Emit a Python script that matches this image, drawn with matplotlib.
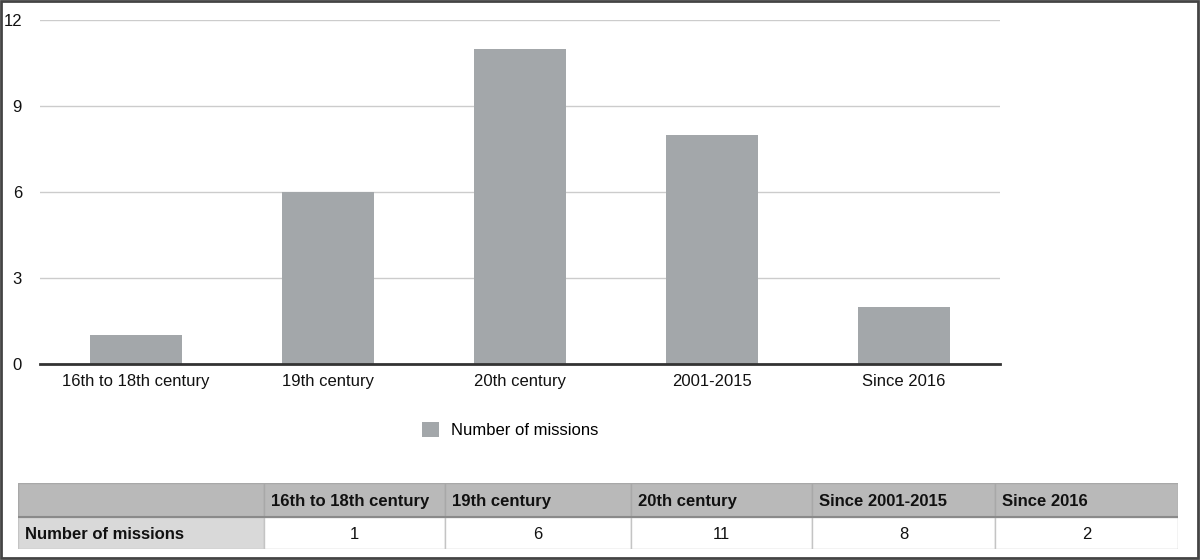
import matplotlib.pyplot as plt
from matplotlib.patches import Rectangle

plt.rcParams['font.family'] = ['Liberation Sans', 'DejaVu Sans']

categories = ["16th to 18th century", "19th century", "20th century",
              "2001-2015", "Since 2016"]
missions = [1, 6, 11, 8, 2]
series_name = "Number of missions"
table_cols = ["16th to 18th century", "19th century", "20th century",
              "Since 2001-2015", "Since 2016"]
y_ticks = [0, 3, 6, 9, 12]

W, H = 1200, 560
fig = plt.figure(figsize=(12, 5.6), dpi=100)

# chart area
ax = fig.add_axes([40 / W, 1 - 364 / H, 960 / W, 344 / H])
x = list(range(len(categories)))
bars = ax.bar(x, missions, width=0.475, color="#a3a7aa", label=series_name,
              zorder=2)
ax.set_xlim(-0.5, len(categories) - 0.5)
ax.set_ylim(0, 12)
ax.set_yticks(y_ticks)
ax.set_xticks(x)
ax.set_xticklabels(categories)
ax.tick_params(length=0, labelsize=12, colors="#111111")
ax.tick_params(axis="y", pad=13)
ax.tick_params(axis="x", pad=7)
ax.grid(axis="y", color="#cccccc", linewidth=1, zorder=0)
for s in ["top", "right", "left"]:
    ax.spines[s].set_visible(False)
ax.spines["bottom"].set_color("#333333")
ax.spines["bottom"].set_linewidth(2)
ax.spines["bottom"].set_zorder(3)

fig.legend(handles=[bars], labels=[series_name], loc="center left",
           bbox_to_anchor=(407 / W, 1 - 430 / H), frameon=False,
           handlelength=1.0, handleheight=1.0, fontsize=12,
           handletextpad=0.75)

# table below
col_w = [246, 181, 186, 181, 183, 183]
row_h = [34, 32]
tx0, ty0 = 18, 483
tab = fig.add_axes([tx0 / W, 1 - (ty0 + sum(row_h)) / H,
                    sum(col_w) / W, sum(row_h) / H])
tab.set_xlim(0, sum(col_w))
tab.set_ylim(sum(row_h), 0)
tab.axis("off")

header = [""] + table_cols
row = [series_name] + [str(v) for v in missions]
edges = [0]
for w in col_w:
    edges.append(edges[-1] + w)

for j in range(len(col_w)):
    # header cell
    tab.add_patch(Rectangle((edges[j], 0), col_w[j], row_h[0],
                            facecolor="#b9b9b9", edgecolor="#a8a8a8",
                            linewidth=1))
    tab.text(edges[j] + 7, row_h[0] / 2, header[j], ha="left",
             va="center_baseline", fontsize=12, fontweight="bold",
             color="#111111")
    # data cell
    fc = "#d9d9d9" if j == 0 else "white"
    tab.add_patch(Rectangle((edges[j], row_h[0]), col_w[j], row_h[1],
                            facecolor=fc, edgecolor="#c4c4c4", linewidth=1))
    if j == 0:
        tab.text(edges[j] + 7, row_h[0] + row_h[1] / 2, row[j], ha="left",
                 va="center_baseline", fontsize=12, fontweight="bold",
                 color="#111111")
    else:
        tab.text(edges[j] + col_w[j] / 2, row_h[0] + row_h[1] / 2, row[j],
                 ha="center", va="center_baseline", fontsize=12,
                 color="#111111")
tab.plot([0, sum(col_w)], [row_h[0], row_h[0]], color="#8a8a8a",
         linewidth=1.5)

# outer frame
fig.patches.append(Rectangle((0.001, 0.004), 0.997, 0.995,
                             transform=fig.transFigure, fill=False,
                             edgecolor="#444444", linewidth=2))

plt.savefig("out.png")
